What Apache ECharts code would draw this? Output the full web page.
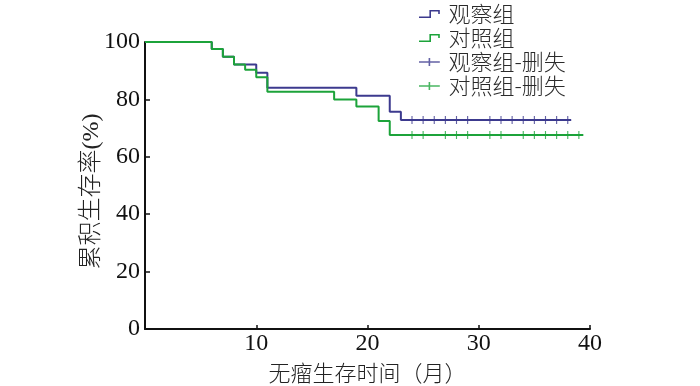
<!DOCTYPE html>
<html>
<head>
<meta charset="utf-8">
<script src="https://cdn.jsdelivr.net/npm/echarts@6/dist/echarts.min.js"></script>
<style>
  html, body { margin: 0; padding: 0; background: #fff; }
  #chart { width: 700px; height: 386px; }
</style>
</head>
<body>
<div id="chart"></div>
<script>
// KM step points [month, survival %]
var obsSteps = [[0, 100], [6, 97.6], [7, 94.9], [8, 92.2], [10, 89.3], [11, 84.1], [19, 81.3], [22, 75.7], [23, 72.8], [38.3, 72.8]];
var ctlSteps = [[0, 100], [6, 97.6], [7, 94.9], [8, 92.2], [9, 90.3], [10, 87.7], [11, 82.7], [17, 80.0], [19, 77.5], [21, 72.5], [22, 67.6], [39.4, 67.6]];
// censored times
var obsCensor = [24, 25, 26, 27, 28, 29, 31, 32, 33, 34, 35, 36, 37, 38];
var ctlCensor = [24, 25, 27, 28, 29, 31, 32, 34, 35, 36, 37, 38, 39];
var obsCensorLevel = 72.8;
var ctlCensorLevel = 67.6;
var seriesNames = ['观察组', '对照组', '观察组-删失', '对照组-删失'];
var xTicks = [0, 10, 20, 30, 40];
var yTicks = [0, 20, 40, 60, 80, 100];

var purple = '#3c3a8e';
var green = '#1ca33a';
var stepIcon = 'path://M0,8H13V0H26V5H24V2H15V10H0Z';
var plusIcon = 'path://M0,4.2H26V5.8H0Z M12,0H14V10H12Z';
var plusMark = 'path://M0,4.2H10V5.8H0Z M4.2,0H5.8V10H4.2Z';

var myChart = echarts.init(document.getElementById('chart'));
var numFont = '"Liberation Serif", "Times New Roman", serif';
var nameFont = '"Liberation Serif", "Noto Sans CJK SC", serif';
var cjkFont = '"Noto Sans CJK SC", sans-serif';

var option = {
    backgroundColor: '#fff',
    animation: false,
    grid: { left: 145, right: 110, top: 42, bottom: 57, containLabel: false, outerBoundsMode: 'none' },
    legend: {
        orient: 'vertical',
        left: 419,
        top: 3,
        padding: 0,
        itemWidth: 26,
        itemHeight: 8,
        itemGap: 2,
        data: [
            { name: seriesNames[0], icon: stepIcon },
            { name: seriesNames[1], icon: stepIcon },
            { name: seriesNames[2], icon: plusIcon },
            { name: seriesNames[3], icon: plusIcon }
        ],
        textStyle: { fontFamily: cjkFont, fontSize: 22, fontWeight: 300, color: '#2a2a2a', lineHeight: 22, padding: [0, 0, 0, 1] }
    },
    xAxis: {
        type: 'value',
        min: xTicks[0],
        max: xTicks[xTicks.length - 1],
        interval: 10,
        name: '无瘤生存时间（月）',
        nameLocation: 'middle',
        nameGap: 33,
        nameMoveOverlap: false,
        nameTextStyle: { fontFamily: cjkFont, fontSize: 22, fontWeight: 300, color: '#222' },
        axisLine: { lineStyle: { color: '#111', width: 2 } },
        axisTick: { inside: true, length: 4, lineStyle: { color: '#111', width: 1.5 } },
        axisLabel: {
            fontFamily: numFont, fontSize: 24, color: '#111', margin: 3,
            formatter: function (v) { return v === 0 ? '' : v; }
        },
        splitLine: { show: false }
    },
    yAxis: {
        type: 'value',
        min: yTicks[0],
        max: yTicks[yTicks.length - 1],
        interval: 20,
        name: '累积生存率(%)',
        nameLocation: 'middle',
        nameGap: 41,
        nameMoveOverlap: false,
        nameTextStyle: { fontFamily: nameFont, fontSize: 24, fontWeight: 300, color: '#222', padding: [0, 12, 0, 0] },
        axisLine: { lineStyle: { color: '#111', width: 2 } },
        axisTick: { inside: true, length: 5, lineStyle: { color: '#111', width: 1.5 } },
        axisLabel: { fontFamily: numFont, fontSize: 24, color: '#111', margin: 5 },
        splitLine: { show: false }
    },
    series: [
        {
            name: seriesNames[0], type: 'line', step: 'end', data: obsSteps,
            showSymbol: false, symbol: 'none', z: 2,
            itemStyle: { color: purple }, lineStyle: { color: purple, width: 2 }
        },
        {
            name: seriesNames[1], type: 'line', step: 'end', data: ctlSteps,
            showSymbol: false, symbol: 'none', z: 3,
            itemStyle: { color: green }, lineStyle: { color: green, width: 2 }
        },
        {
            name: seriesNames[2], type: 'scatter', symbol: plusMark, symbolSize: [7, 8], z: 4,
            itemStyle: { color: purple },
            data: obsCensor.map(function (t) { return [t, obsCensorLevel]; })
        },
        {
            name: seriesNames[3], type: 'scatter', symbol: plusMark, symbolSize: [7, 8], z: 4,
            itemStyle: { color: green },
            data: ctlCensor.map(function (t) { return [t, ctlCensorLevel]; })
        }
    ]
};
myChart.setOption(option);
</script>
</body>
</html>
